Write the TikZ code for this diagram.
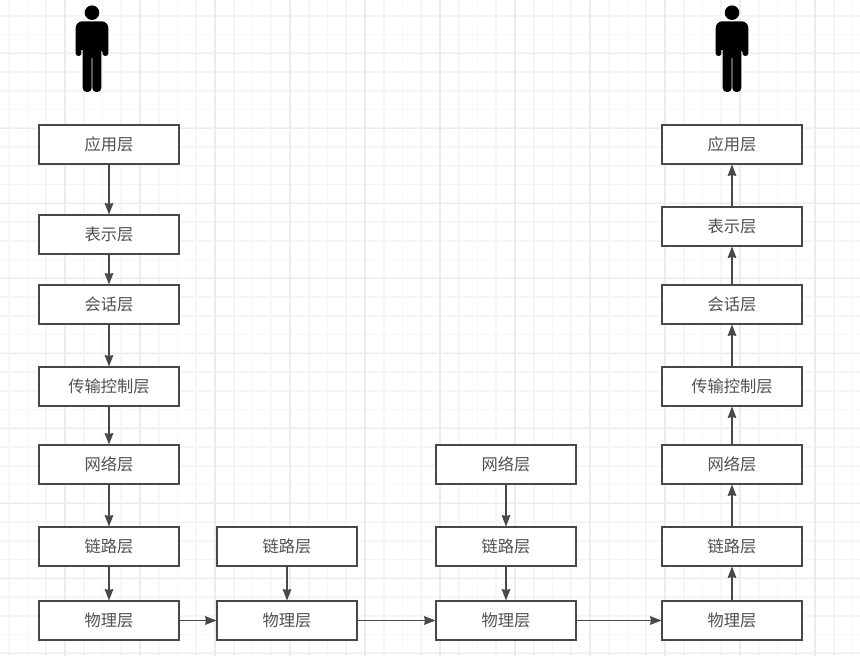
\documentclass[tikz,border=0pt]{standalone}
\usepackage{fontspec}
\setmainfont{Noto Sans CJK SC}
\usetikzlibrary{arrows.meta}
\definecolor{minorline}{RGB}{246,246,246}
\definecolor{majorline}{RGB}{236,236,236}
\definecolor{boxline}{RGB}{72,72,72}
\definecolor{boxtext}{RGB}{80,80,80}
\tikzset{
    layerbox/.style={draw=boxline,fill=white,line width=0.8pt,text=boxtext,font=\fontsize{12.2}{14}\selectfont,
        minimum width=105pt,minimum height=29.25pt,inner sep=0pt},
    flow/.style={draw=boxline,line width=0.8pt,-{Stealth[length=8.5pt,width=6.5pt,inset=0.6pt]}},
}
\begin{document}
\begin{tikzpicture}[x=0.75pt,y=0.75pt,yscale=-1,xscale=1]
    \useasboundingbox (0,0) rectangle (860,656);
    \fill[white] (0,0) rectangle (860,656);

    %Shape: paper grid
    \draw[minorline,line width=1.2pt,shift={(8.75,15.75)},step=18.75] (-8.75,-15.75) grid (851.25,640.25);
    \draw[majorline,line width=1.2pt,shift={(65,53.5)},step=75] (-65,-53.5) grid (795,602.5);

    %Shape: person, sender and receiver
    \foreach \px in {92,732} {
        \begin{scope}[shift={(\px,0)}]
            \fill (0,12.7) circle [radius=7.3];
            \fill[rounded corners=2pt] (-10.6,50) -- (-10.6,56) -- (-16.3,56)
                [rounded corners=5pt] -- (-16.3,21.3) -- (16.3,21.3)
                [rounded corners=2pt] -- (16.3,56) -- (10.6,56) -- (10.6,50)
                [sharp corners] -- (9.3,50)
                [rounded corners=3pt] -- (9.3,92) -- (0.3,92)
                [sharp corners] -- (0.3,58) -- (-0.3,58)
                [rounded corners=3pt] -- (-0.3,92) -- (-9.3,92)
                [sharp corners] -- (-9.3,50) -- cycle;
        \end{scope}
    }

    % Sender column
    \node[layerbox] (sendapp) at (109,144.5) {应用层};
    \node[layerbox] (sendpres) at (109,234.5) {表示层};
    \node[layerbox] (sendsess) at (109,304.5) {会话层};
    \node[layerbox] (sendtrans) at (109,386.5) {传输控制层};
    \node[layerbox] (sendnet) at (109,464.5) {网络层};
    \node[layerbox] (sendlink) at (109,546.5) {链路层};
    \node[layerbox] (sendphy) at (109,620.5) {物理层};

    % First hop
    \node[layerbox] (hopalink) at (287,546.5) {链路层};
    \node[layerbox] (hopaphy) at (287,620.5) {物理层};

    % Second hop
    \node[layerbox] (hopbnet) at (506,464.5) {网络层};
    \node[layerbox] (hopblink) at (506,546.5) {链路层};
    \node[layerbox] (hopbphy) at (506,620.5) {物理层};

    % Receiver column
    \node[layerbox] (recvapp) at (732,144.5) {应用层};
    \node[layerbox] (recvpres) at (732,226.5) {表示层};
    \node[layerbox] (recvsess) at (732,304.5) {会话层};
    \node[layerbox] (recvtrans) at (732,386.5) {传输控制层};
    \node[layerbox] (recvnet) at (732,464.5) {网络层};
    \node[layerbox] (recvlink) at (732,546.5) {链路层};
    \node[layerbox] (recvphy) at (732,620.5) {物理层};

    % Connectors
    \draw[flow] (sendapp) -- (sendpres);
    \draw[flow] (sendpres) -- (sendsess);
    \draw[flow] (sendsess) -- (sendtrans);
    \draw[flow] (sendtrans) -- (sendnet);
    \draw[flow] (sendnet) -- (sendlink);
    \draw[flow] (sendlink) -- (sendphy);
    \draw[flow] (sendphy) -- (hopaphy);
    \draw[flow] (hopalink) -- (hopaphy);
    \draw[flow] (hopaphy) -- (hopbphy);
    \draw[flow] (hopbnet) -- (hopblink);
    \draw[flow] (hopblink) -- (hopbphy);
    \draw[flow] (hopbphy) -- (recvphy);
    \draw[flow] (recvphy) -- (recvlink);
    \draw[flow] (recvlink) -- (recvnet);
    \draw[flow] (recvnet) -- (recvtrans);
    \draw[flow] (recvtrans) -- (recvsess);
    \draw[flow] (recvsess) -- (recvpres);
    \draw[flow] (recvpres) -- (recvapp);

\end{tikzpicture}
\end{document}
